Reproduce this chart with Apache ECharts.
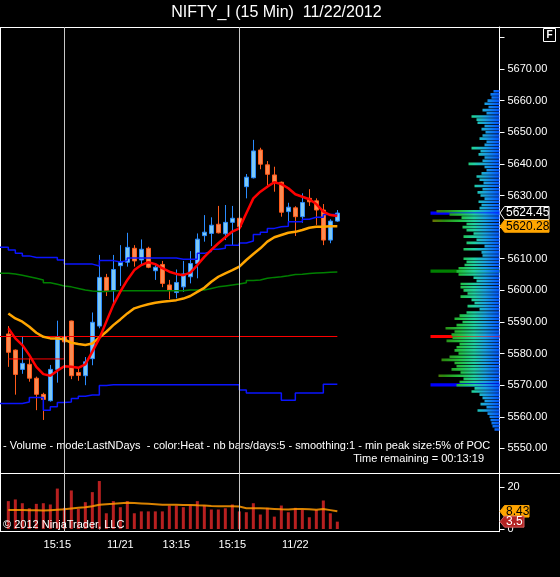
<!DOCTYPE html>
<html><head><meta charset="utf-8">
<script src="https://cdn.jsdelivr.net/npm/echarts@6/dist/echarts.min.js"></script>
<style>html,body{margin:0;padding:0;background:#000;}#c{width:560px;height:577px;}</style>
</head><body><div id="c"></div>
<script>
// ---------- DATA ----------
const opens  = [5586.2,5581.1,5575.0,5576.6,5572.2,5567.1,5565.1,5575.0,5585.3,5590.3,5574.0,5573.0,5578.4,5588.7,5604.1,5599.9,5607.8,5608.9,5613.3,5609.6,5613.3,5606.2,5608.2,5601.7,5599.3,5601.1,5604.3,5608.5,5617.3,5618.0,5620.9,5617.9,5621.5,5622.8,5632.8,5635.6,5644.4,5639.7,5636.5,5634.2,5624.9,5626.1,5623.3,5629.1,5628.3,5625.4,5615.9,5621.9];
const highs  = [5588.7,5581.3,5585.5,5578.5,5572.7,5567.6,5576.4,5590.4,5588.2,5590.4,5575.6,5578.9,5593.0,5611.2,5605.2,5611.2,5614.3,5618.2,5614.3,5616.1,5613.8,5608.5,5609.3,5603.3,5606.6,5609.3,5612.4,5618.0,5623.8,5623.1,5626.7,5627.0,5626.7,5628.3,5636.8,5647.6,5645.1,5640.9,5639.1,5634.4,5627.7,5626.6,5630.7,5632.0,5629.1,5627.3,5622.5,5625.4];
const lows   = [5575.8,5567.0,5573.6,5571.1,5562.1,5559.0,5564.8,5570.8,5582.7,5571.9,5571.4,5570.0,5576.3,5588.0,5598.2,5595.9,5601.4,5607.5,5607.5,5608.3,5607.0,5603.3,5601.0,5597.2,5597.5,5599.5,5602.2,5603.8,5615.4,5614.0,5618.0,5615.9,5614.3,5619.3,5629.1,5635.4,5638.3,5633.3,5631.2,5623.3,5621.7,5617.2,5621.4,5626.7,5620.7,5614.3,5614.9,5621.7];
const closes = [5580.4,5573.4,5576.9,5572.2,5567.1,5565.5,5575.0,5585.3,5583.7,5573.0,5573.1,5577.4,5589.9,5604.1,5599.9,5606.6,5608.9,5613.6,5609.3,5613.0,5607.3,5607.3,5602.2,5600.1,5602.5,5605.2,5608.5,5616.2,5618.4,5620.6,5618.2,5621.5,5622.8,5620.1,5635.8,5644.1,5639.9,5636.7,5634.2,5624.7,5626.3,5623.3,5627.8,5628.0,5625.4,5615.9,5621.9,5624.45];

const emaFast = [5588.0,5584.8,5582.7,5579.5,5575.8,5573.5,5573.0,5574.6,5576.0,5575.8,5575.5,5576.6,5580.6,5584.8,5590.1,5595.4,5599.6,5603.3,5606.4,5608.0,5608.9,5608.3,5607.0,5605.9,5605.2,5604.8,5605.6,5608.0,5610.6,5612.8,5614.9,5616.8,5618.6,5619.6,5624.4,5629.1,5631.2,5632.8,5634.2,5633.6,5632.3,5630.4,5629.6,5628.8,5627.3,5624.9,5623.8,5623.5];
const smaSlow = [5592.7,5591.1,5590.1,5588.5,5586.6,5585.3,5584.8,5584.8,5584.5,5583.4,5583.0,5582.7,5583.2,5585.1,5586.9,5589.0,5590.8,5592.7,5594.3,5595.0,5595.6,5596.1,5596.4,5596.6,5596.9,5597.4,5598.2,5599.5,5600.8,5602.7,5604.3,5605.4,5606.4,5607.5,5609.6,5611.5,5613.3,5615.4,5616.8,5617.5,5618.2,5618.5,5619.1,5619.8,5620.1,5620.1,5620.3,5620.28];

// step bands: first value is the segment at the left edge, then one value per bar
const upperBand = [5613.6,5612.8,5611.7,5610.9,5610.4,5610.4,5610.4,5610.4,5609.6,5608.3,5608.3,5608.3,5608.3,5607.7,5609.4,5609.4,5609.0,5609.4,5610.2,5610.2,5610.2,5610.2,5610.2,5610.2,5610.2,5609.8,5609.8,5609.8,5611.7,5612.3,5613.0,5613.3,5614.3,5614.3,5615.0,5615.6,5617.7,5618.4,5619.6,5620.1,5620.3,5621.7,5621.7,5622.5,5623.1,5623.1,5624.0,5624.0,5624.0];
const lowerBand = [5564.2,5564.2,5564.2,5564.7,5566.1,5566.1,5562.1,5563.2,5564.5,5564.7,5565.8,5566.5,5566.9,5566.9,5569.9,5570.1,5570.1,5570.1,5570.1,5570.1,5570.1,5570.1,5570.1,5570.1,5570.1,5570.1,5570.1,5570.1,5570.1,5570.1,5570.1,5570.1,5570.1,5570.1,5568.5,5567.5,5567.5,5567.5,5567.5,5567.5,5565.2,5565.2,5567.5,5567.5,5567.5,5567.5,5570.3,5570.3,5570.3];
const midBand   = [5605.4,5605.2,5604.8,5604.3,5603.8,5603.3,5602.4,5601.9,5601.4,5601.1,5600.6,5600.1,5599.8,5599.6,5599.6,5599.9,5599.9,5599.9,5599.9,5599.9,5599.9,5599.9,5599.9,5599.9,5599.9,5599.9,5600.1,5600.1,5600.1,5600.6,5601.1,5601.4,5601.7,5602.0,5602.4,5603.1,5603.3,5603.8,5604.1,5604.3,5604.6,5605.0,5605.1,5605.3,5605.5,5605.6,5605.7,5605.8,5605.8];

const pocPrice = 5585.4;
const prevPocPrice = 5578.3;
const sessionStarts = [8, 33];

const volumes = [13.3,14.1,12.3,9.9,12.0,12.3,11.7,19.3,10.1,18.4,9.6,12.8,17.6,22.9,7.5,13.3,10.4,13.3,7.5,8.4,8.4,8.4,8.4,11.2,11.2,10.4,11.2,13.3,11.2,9.3,9.3,9.9,11.7,8.4,8.0,12.3,6.9,10.1,5.9,11.2,8.0,10.1,9.1,5.6,9.1,13.6,7.5,3.5];
const volSma  = [9.1,9.1,9.1,9.0,8.9,8.8,9.0,9.2,9.4,9.8,10.1,10.4,10.9,11.6,11.8,12.0,12.3,12.5,12.4,12.2,12.0,11.8,11.6,11.6,11.6,11.5,11.5,11.3,11.2,11.0,10.9,10.9,10.8,10.7,9.9,9.9,9.9,9.8,9.6,9.4,9.3,9.5,9.5,9.4,9.2,9.5,9.0,8.43];

const profilePrices = [5663,5662,5661,5660,5659,5658,5657,5656,5655,5654,5653,5652,5651,5650,5649,5648,5647,5646,5645,5644,5643,5642,5641,5640,5639,5638,5637,5636,5635,5634,5633,5632,5631,5630,5629,5628,5627,5626,5625,5624,5623,5622,5621,5620,5619,5618,5617,5616,5615,5614,5613,5612,5611,5610,5609,5608,5607,5606,5605,5604,5603,5602,5601,5600,5599,5598,5597,5596,5595,5594,5593,5592,5591,5590,5589,5588,5587,5586,5585,5584,5583,5582,5581,5580,5579,5578,5577,5576,5575,5574,5573,5572,5571,5570,5569,5568,5567,5566,5565,5564,5563,5562,5561,5560,5559,5558,5557,5556];
const profileVols   = [6,9,8,12,15,11,17,13,28,23,22,15,18,14,17,20,13,15,28,19,21,15,17,31,15,13,18,23,20,16,25,17,22,19,15,21,18,20,63,50,38,67,33,37,33,26,36,23,33,15,36,18,17,36,33,35,41,43,41,26,23,39,39,36,32,39,28,25,32,20,33,40,45,37,43,54,45,48,47,53,40,43,45,41,50,58,45,43,48,39,61,36,40,43,25,28,20,17,15,19,13,22,12,10,9,8,7,5];
const peakPrices = [5624.45, 5606.1, 5585.4, 5570.1];
const peakVols   = [69, 69, 69, 69];

const priceTicks  = [5550,5560,5570,5580,5590,5600,5610,5620,5630,5640,5650,5660,5670,5680];
const priceLabels = [5550,5560,5570,5580,5590,5600,5610,5620,5630,5640,5650,5660,5670];
const volTicks = [0, 20];
const timeTickIdx = [7, 16, 24, 32, 41];
const timeTickLabels = ['15:15','11/21','13:15','15:15','11/22'];

const titleText = 'NIFTY_I (15 Min)  11/22/2012';
const infoText = '- Volume - mode:LastNDays  - color:Heat - nb bars/days:5 - smoothing:1 - min peak size:5% of POC';
const timeText = 'Time remaining = 00:13:19';
const copyText = '\u00A9 2012 NinjaTrader, LLC';

// ---------- LAYOUT / STYLE ----------
const FONT = '"Liberation Sans", Arial, sans-serif';
const AX = 499.5;           // right axis x
const X_MIN = -1.19, X_MAX = X_MIN + AX / 7;
const peakColors = ['#0000ff', '#008000', '#ff0000', '#0000ff'];
const upFill = '#7ec8f2', upLine = '#2a8cff', dnFill = '#f98b52', dnLine = '#ff5a1a';

const chart = echarts.init(document.getElementById('c'), null, {renderer: 'canvas'});

const candleData = opens.map((o, i) => [i, o, closes[i], lows[i], highs[i]]);
const stepData = arr => arr.map((v, k) => [k === 0 ? X_MIN : k - 1, v]);
const heat = new echarts.graphic.LinearGradient(420, 0, AX, 0, [
  {offset: 0, color: '#8a1800'}, {offset: 0.15, color: '#6e7000'},
  {offset: 0.3, color: '#2a8a10'}, {offset: 0.5, color: '#22c040'},
  {offset: 0.68, color: '#20d0a0'}, {offset: 0.82, color: '#1aa0e0'},
  {offset: 1, color: '#0050ff'}], true);

const option = {
  backgroundColor: '#000',
  animation: false,
  textStyle: {fontFamily: FONT},
  grid: [
    {left: 0, top: 27, width: AX, height: 446.7},
    {left: 0, top: 473.7, width: AX, height: 58}
  ],
  xAxis: [
    {type: 'value', gridIndex: 0, min: X_MIN, max: X_MAX, show: false},
    {type: 'value', gridIndex: 0, min: 0, max: AX, inverse: true, show: false},
    {type: 'value', gridIndex: 1, min: X_MIN, max: X_MAX,
      axisLine: {show: true, onZero: false, lineStyle: {color: '#fff', width: 1}},
      axisTick: {show: false}, splitLine: {show: false},
      axisLabel: {customValues: timeTickIdx, color: '#fff', fontSize: 11, fontFamily: FONT, margin: 8,
        formatter: v => timeTickLabels[timeTickIdx.indexOf(v)] || ''}}
  ],
  yAxis: [
    {type: 'value', gridIndex: 0, position: 'right', min: 5542.0, max: 5683.3,
      axisLine: {show: true, onZero: false, lineStyle: {color: '#fff', width: 1}},
      axisTick: {show: true, length: 5, customValues: priceTicks, lineStyle: {color: '#fff'}},
      splitLine: {show: false},
      axisLabel: {customValues: priceLabels, color: '#fff', fontSize: 11, fontFamily: FONT, margin: 8,
        formatter: v => v.toFixed(2)}},
    {type: 'value', gridIndex: 1, position: 'right', min: -1.3, max: 26.4,
      axisLine: {show: true, onZero: false, lineStyle: {color: '#fff', width: 1}},
      axisTick: {show: true, length: 5, customValues: volTicks, lineStyle: {color: '#fff'}},
      splitLine: {show: false},
      axisLabel: {customValues: volTicks, color: '#fff', fontSize: 11, fontFamily: FONT, margin: 8}}
  ],
  series: [
    {type: 'custom', name: 'peaks', xAxisIndex: 1, yAxisIndex: 0, clip: true,
      data: peakPrices.map((p, i) => [peakVols[i], p, i]),
      encode: {x: 0, y: 1},
      renderItem: (params, api) => {
        const a = api.coord([api.value(0), api.value(1)]);
        const b = api.coord([0, api.value(1)]);
        return {type: 'rect', shape: {x: a[0], y: a[1] - 1.6, width: b[0] - a[0], height: 3.2},
          style: {fill: peakColors[api.value(2)]}};
      }},
    {type: 'custom', name: 'profile', xAxisIndex: 1, yAxisIndex: 0, clip: true,
      data: profilePrices.map((p, i) => [profileVols[i], p]),
      encode: {x: 0, y: 1},
      renderItem: (params, api) => {
        const a = api.coord([api.value(0), api.value(1)]);
        const b = api.coord([0, api.value(1)]);
        return {type: 'rect', shape: {x: a[0], y: a[1] - 1.3, width: b[0] - a[0], height: 2.6},
          style: {fill: heat}};
      }},
    {type: 'custom', name: 'candles', xAxisIndex: 0, yAxisIndex: 0, clip: true,
      data: candleData, encode: {x: 0, y: [1, 2, 3, 4]},
      renderItem: (params, api) => {
        const x = api.value(0), o = api.value(1), c = api.value(2), l = api.value(3), h = api.value(4);
        const pO = api.coord([x, o]), pC = api.coord([x, c]), pL = api.coord([x, l]), pH = api.coord([x, h]);
        const up = c >= o;
        const cx = Math.round(pO[0]) + 0.5;
        const top = Math.min(pO[1], pC[1]), bot = Math.max(pO[1], pC[1]);
        const col = up ? upLine : dnLine;
        return {type: 'group', children: [
          {type: 'line', shape: {x1: cx, y1: pH[1], x2: cx, y2: pL[1]}, style: {stroke: col, lineWidth: 1}},
          {type: 'rect', shape: {x: cx - 2, y: top, width: 4, height: Math.max(bot - top, 1)},
            style: {fill: up ? upFill : dnFill, stroke: col, lineWidth: 1}}
        ]};
      }},
    {type: 'line', name: 'upper', xAxisIndex: 0, yAxisIndex: 0, step: 'end', symbol: 'none',
      data: stepData(upperBand), lineStyle: {color: '#0a14ff', width: 1.5}},
    {type: 'line', name: 'lower', xAxisIndex: 0, yAxisIndex: 0, step: 'end', symbol: 'none',
      data: stepData(lowerBand), lineStyle: {color: '#0a14ff', width: 1.5}},
    {type: 'line', name: 'mid', xAxisIndex: 0, yAxisIndex: 0, step: 'end', symbol: 'none',
      data: stepData(midBand), lineStyle: {color: '#008000', width: 1.5}},
    {type: 'line', name: 'poc', xAxisIndex: 0, yAxisIndex: 0, symbol: 'none',
      data: [[X_MIN, pocPrice], [closes.length - 1, pocPrice]], lineStyle: {color: '#ff0000', width: 1}},
    {type: 'line', name: 'prevPoc', xAxisIndex: 0, yAxisIndex: 0, symbol: 'none',
      data: [[0, prevPocPrice], [sessionStarts[0], prevPocPrice], [sessionStarts[0], pocPrice]],
      lineStyle: {color: '#ff0000', width: 1}},
    {type: 'line', name: 'sma', xAxisIndex: 0, yAxisIndex: 0, symbol: 'none',
      data: smaSlow.map((v, i) => [i, v]), lineStyle: {color: '#ffa500', width: 2.5}},
    {type: 'line', name: 'ema', xAxisIndex: 0, yAxisIndex: 0, symbol: 'none',
      data: emaFast.map((v, i) => [i, v]), lineStyle: {color: '#ff0000', width: 2.5},
      markLine: {silent: true, symbol: 'none', label: {show: false},
        lineStyle: {color: '#c8c8c8', width: 1, type: 'solid'},
        data: sessionStarts.map(s => ({xAxis: s}))}},
    {type: 'bar', name: 'vol', xAxisIndex: 2, yAxisIndex: 1, barWidth: 3,
      data: volumes.map((v, i) => [i, v]), itemStyle: {color: '#b82020'},
      markLine: {silent: true, symbol: 'none', label: {show: false},
        lineStyle: {color: '#c8c8c8', width: 1, type: 'solid'},
        data: sessionStarts.map(s => ({xAxis: s}))}},
    {type: 'line', name: 'volSma', xAxisIndex: 2, yAxisIndex: 1, symbol: 'none',
      data: volSma.map((v, i) => [i, v]), lineStyle: {color: '#ff9900', width: 2, opacity: 0.85}}
  ]
};
chart.setOption(option);

// ---------- value tags & decorations ----------
const py = v => chart.convertToPixel({xAxisIndex: 0, yAxisIndex: 0}, [0, v])[1];
const vy = v => chart.convertToPixel({xAxisIndex: 2, yAxisIndex: 1}, [0, v])[1];
function tag(y, w, h, fill, stroke, text, textColor) {
  const x0 = AX + 0.5, x1 = x0 + 4.5, x2 = x0 + w;
  return [
    {type: 'polygon', shape: {points: [[x0, y], [x1, y - h / 2], [x2, y - h / 2], [x2, y + h / 2], [x1, y + h / 2]]},
      style: {fill: fill, stroke: stroke, lineWidth: 1}, z: 100},
    {type: 'text', x: x1 + 1.5, y: y, style: {text: text, fill: textColor, font: '12px ' + FONT,
      textVerticalAlign: 'middle', verticalAlign: 'middle'}, z: 101}
  ];
}
const lastClose = closes[closes.length - 1];
const lastSma = smaSlow[smaSlow.length - 1];
const lastVol = volumes[volumes.length - 1];
const lastVolSma = volSma[volSma.length - 1];
const g = [
  {type: 'text', x: 276.4, y: 13, style: {text: titleText, fill: '#fff', font: '16px ' + FONT, textAlign: 'center', textVerticalAlign: 'middle', verticalAlign: 'middle'}},
  {type: 'line', shape: {x1: 0, y1: 27.5, x2: 560, y2: 27.5}, style: {stroke: '#fff', lineWidth: 1}},
  {type: 'line', shape: {x1: 0, y1: 473.5, x2: 560, y2: 473.5}, style: {stroke: '#fff', lineWidth: 1}},
  {type: 'line', shape: {x1: 0.5, y1: 27, x2: 0.5, y2: 532}, style: {stroke: '#fff', lineWidth: 1}},
  {type: 'rect', shape: {x: 543.5, y: 28.5, width: 12, height: 13}, style: {fill: '#000', stroke: '#fff', lineWidth: 1}},
  {type: 'text', x: 549.5, y: 35.5, style: {text: 'F', fill: '#fff', font: 'bold 10px ' + FONT, textAlign: 'center', textVerticalAlign: 'middle', verticalAlign: 'middle'}},
  {type: 'text', x: 3, y: 446.2, style: {text: infoText, fill: '#fff', font: '11px ' + FONT, textVerticalAlign: 'middle', verticalAlign: 'middle'}},
  {type: 'text', x: 484, y: 459, style: {text: timeText, fill: '#fff', font: '11px ' + FONT, textAlign: 'right', textVerticalAlign: 'middle', verticalAlign: 'middle'}},
  {type: 'text', x: 3, y: 524.5, style: {text: copyText, fill: '#fff', font: '11px ' + FONT, textVerticalAlign: 'middle', verticalAlign: 'middle'}, z: 50}
].concat(
  tag(py(lastClose), 49, 13, '#000', '#fff', lastClose.toFixed(2), '#fff'),
  tag(py(lastSma), 49, 12, '#ffa500', '#ffa500', lastSma.toFixed(2), '#000'),
  tag(vy(lastVolSma), 29, 11.5, '#ffa500', '#ffa500', String(lastVolSma), '#000'),
  tag(vy(lastVol), 24, 11, '#b22222', '#d06060', String(lastVol), '#fff')
);
chart.setOption({graphic: g});
</script></body></html>
